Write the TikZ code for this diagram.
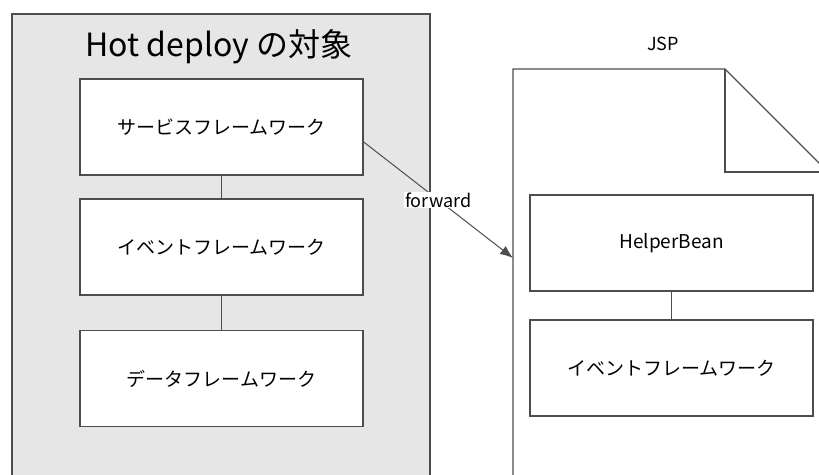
\documentclass[tikz,border=0pt]{standalone}
\usepackage{fontspec}
\setmainfont{Noto Sans CJK JP}
\usetikzlibrary{arrows.meta}

\definecolor{panelgray}{HTML}{E6E6E6}
\definecolor{linegray}{HTML}{4D4D4D}

\begin{document}
\begin{tikzpicture}[x=1pt,y=-1pt,
    fwbox/.style={draw=linegray, line width=1.2pt, fill=white,
        minimum width=283pt, minimum height=96pt, font=\fontsize{19}{19}\selectfont},
    link/.style={draw=linegray, line width=1pt}]
    \path[use as bounding box, clip] (0,0) rectangle (819,474);

    % hot deploy panel
    \draw[fill=panelgray, draw=linegray, line width=1.2pt] (12,14) rectangle (430,490);
    \node (title) at (219,47) {\fontsize{32}{32}\selectfont Hot deploy の対象};

    \node[fwbox] (svc) at (221.5,127) {サービスフレームワーク};
    \node[fwbox] (evt) at (221.5,247) {イベントフレームワーク};
    \node[fwbox] (dat) at (221.5,378.5) {データフレームワーク};
    \draw[link] (svc) -- (evt);
    \draw[link] (evt) -- (dat);

    % JSP page
    \draw[draw=linegray, line width=1.2pt] (513,490) -- (513,69) -- (725,69) -- (830,174);
    \draw[draw=linegray, line width=1.2pt] (725,69) -- (725,172) -- (830,172);
    \node (jsp) at (663,44) {\fontsize{18}{18}\selectfont JSP};

    \node[fwbox] (helper) at (671.5,243) {HelperBean};
    \node[fwbox] (jevt) at (671.5,368) {イベントフレームワーク};
    \draw[link] (helper) -- (jevt);

    % forward
    \coordinate (fwdend) at (513,258);
    \draw[link, -{Latex[length=13pt,width=10pt]}] (svc.-6) -- (fwdend)
        node[pos=0.5, fill=white, inner sep=1pt, font=\fontsize{18}{18}\selectfont] (fwd) {forward};
\end{tikzpicture}
\end{document}
